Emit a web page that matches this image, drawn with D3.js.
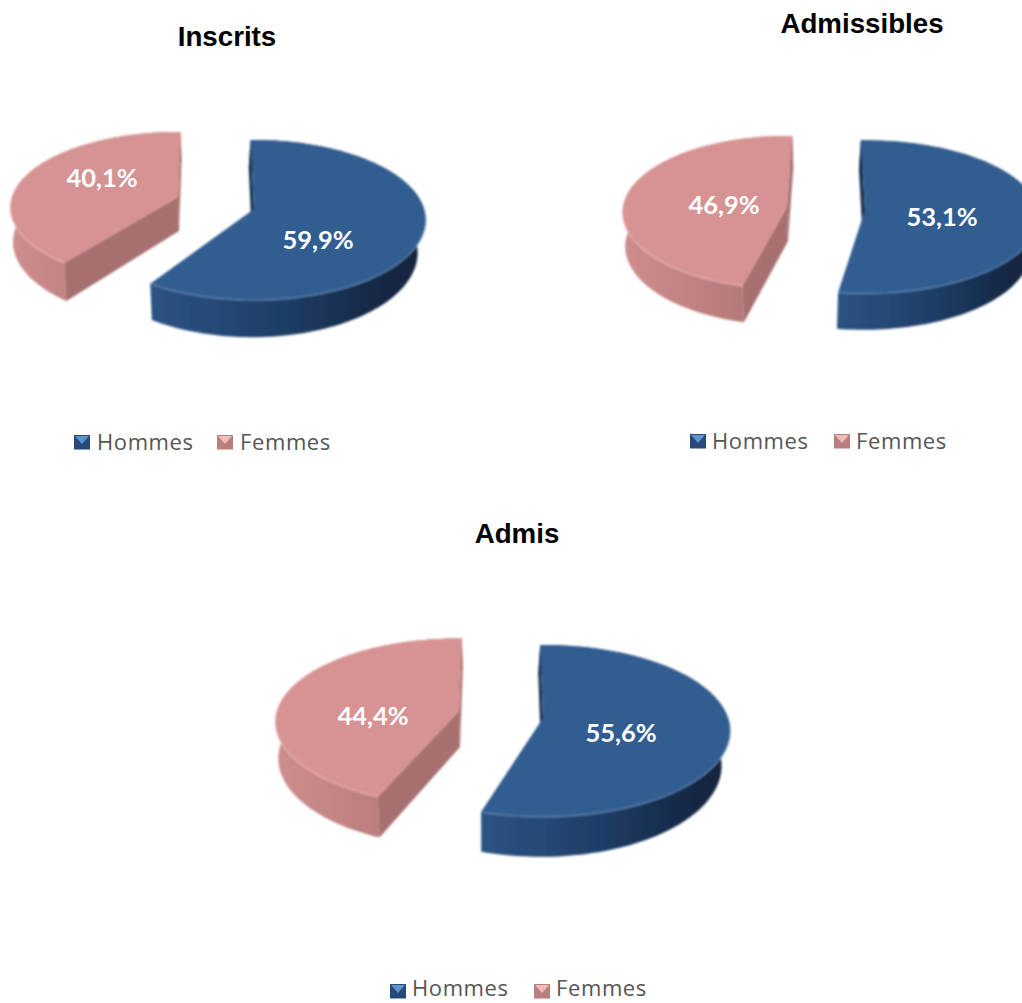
<!DOCTYPE html>
<html><head><meta charset="utf-8">
<script src="https://cdn.jsdelivr.net/npm/d3@7"></script>
<style>html,body{margin:0;padding:0;background:#fff}svg{display:block}</style>
</head><body><svg id="c" width="1022" height="1003"></svg>
<script>
const categories = ["Hommes", "Femmes"];
const titles = ["Inscrits", "Admissibles", "Admis"];
const hommes = [59.9, 53.1, 55.6];
const femmes = [40.1, 46.9, 44.4];

const layouts = [
 {title:[227,37], legend:[74,442,97,217,240],
  blue:{ax:254,ay:209,rx:170,ry:78.5,p:.138,rotS:-1.3,rotE:-3,D:32}, red:{ax:178,ay:197,rx:166,ry:74,p:.138,rotS:2,rotE:1,D:34},
  lblB:[318,240], lblR:[102,178]},
 {title:[862,24], legend:[690,441,712,834,856],
  blue:{ax:865,ay:210,rx:173,ry:76,p:.09,rotS:-1.5,rotE:-3,D:33}, red:{ax:787,ay:207,rx:164,ry:76,p:.07,rotS:3.5,rotE:2,D:34},
  lblB:[942,217], lblR:[724,205]},
 {title:[517,534], legend:[390,988,412,534,556],
  blue:{ax:543,ay:718,rx:185,ry:84,p:.15,rotS:-1,rotE:-3.5,D:34}, red:{ax:459,ay:711,rx:182,ry:82,p:.13,rotS:3,rotE:1,D:36},
  lblB:[621,733], lblR:[373,716]}
];

const svg = d3.select("#c");
const defs = svg.append("defs");
defs.append("filter").attr("id","soft").attr("x","-5%").attr("y","-5%").attr("width","110%").attr("height","110%")
  .append("feGaussianBlur").attr("stdDeviation",.9);
defs.append("filter").attr("id","softer").attr("x","-10%").attr("y","-20%").attr("width","120%").attr("height","140%")
  .append("feGaussianBlur").attr("stdDeviation",.45);
function grad(id, stops){
  const g = defs.append("linearGradient").attr("id",id).attr("x1",0).attr("y1",0).attr("x2",1).attr("y2",0);
  stops.forEach(([o,c])=>g.append("stop").attr("offset",o).attr("stop-color",c));
}
grad("wallB",[[0,"#2c5383"],[.45,"#1f3f69"],[.8,"#152a47"],[1,"#12233b"]]);
grad("wallR",[[0,"#cf8d8d"],[.5,"#bd7f7f"],[1,"#a87070"]]);

const colors = {
  Hommes:{face:"#325d91",wall:"url(#wallB)",cut:"#172d4b",rim:"#6a93c2",sw:"#25497a",swL:"#5f93cb",bs:.965,bx:-2},
  Femmes:{face:"#d79393",wall:"url(#wallR)",cut:"#a76f6f",rim:"#f0b9b9",sw:"#b97f7f",swL:"#efbcb6",bs:.99,bx:1}
};
const pie = d3.pie().sort(null).value(d=>d.v);
const line = d3.line().x(d=>d[0]).y(d=>d[1]);

function proj(g, th, rot, bottom, cfg){
  const t = th + rot*Math.PI/180;
  const d = -Math.cos(t), s = 1/(1-g.p*d);
  const x = g.rx*Math.sin(t)*s, y = g.ry*d*s;
  if(!bottom) return [g.ax+x, g.ay+y];
  return [g.ax+x*cfg.bs+cfg.bx, g.ay+y+g.D*s];
}
function apex(g,bottom,cfg){ return bottom?[g.ax+cfg.bx,g.ay+g.D]:[g.ax,g.ay]; }

function drawSlice(layer, a, g, name){
  const cfg = colors[name];
  const th = d3.scaleLinear().domain([0,120]).range([a.startAngle,a.endAngle]);
  const rt = d3.scaleLinear().domain([0,120]).range([g.rotS,g.rotE]);
  const ids = d3.range(121);
  const top = ids.map(i=>proj(g,th(i),rt(i),false,cfg));
  const bot = ids.map(i=>proj(g,th(i),rt(i),true,cfg));
  layer.append("path").attr("d",line(top.concat(bot.slice().reverse()))+"Z").attr("fill",cfg.wall);
  layer.append("path").attr("d",line([top[0],apex(g,false,cfg),apex(g,true,cfg),bot[0]])+"Z").attr("fill",cfg.cut);
  if(name==="Femmes"){
    layer.append("path").attr("d",line([top[120],apex(g,false,cfg),apex(g,true,cfg),bot[120]])+"Z").attr("fill",cfg.cut);
  }
  layer.append("path").attr("d",line([apex(g,false,cfg)].concat(top))+"Z").attr("fill",cfg.face);
  const front = ids.filter(i=>-Math.cos(th(i)+rt(i)*Math.PI/180)>.05).map(i=>top[i]);
  layer.append("path").attr("d",line(front)).attr("fill","none").attr("stroke",cfg.rim).attr("stroke-width",1.2).attr("stroke-opacity",.7);
}

layouts.forEach((L,i)=>{
  const data = [{c:categories[0],v:hommes[i]},{c:categories[1],v:femmes[i]}];
  const arcs = pie(data);
  const layer = svg.append("g").attr("filter","url(#soft)");
  drawSlice(layer, arcs[1], L.red, "Femmes");
  drawSlice(layer, arcs[0], L.blue, "Hommes");
  const fmt = v=>v.toFixed(1).replace(".",",")+"%";
  [[L.lblB,hommes[i]],[L.lblR,femmes[i]]].forEach(([p,v])=>{
    svg.append("text").attr("x",p[0]).attr("y",p[1]+8.5).attr("text-anchor","middle")
      .attr("font-family","Lato").attr("font-weight",700).attr("font-size",25.5).attr("fill","#fff").text(fmt(v));
  });
  svg.append("text").attr("x",L.title[0]).attr("y",L.title[1]+9).attr("text-anchor","middle")
    .attr("font-family","Liberation Sans").attr("font-weight",700).attr("font-size",27.7).attr("fill","#000").text(titles[i]);
  const [sx,ly,tx1,sx2,tx2] = L.legend;
  [[sx,tx1,colors.Hommes,categories[0]],[sx2,tx2,colors.Femmes,categories[1]]].forEach(([s,t,cfg,name])=>{
    const y0 = (i===2?991:ly)-7;
    const sw = svg.append("g").attr("filter","url(#softer)");
    sw.append("rect").attr("x",s).attr("y",y0).attr("width",16).attr("height",14.5).attr("fill",cfg.sw);
    sw.append("path").attr("d",line([[s+1,y0+1],[s+15,y0+1],[s+8,y0+9]])+"Z").attr("fill",cfg.swL);
    svg.append("text").attr("x",t).attr("y",ly+8).attr("font-family","Open Sans").attr("font-size",22)
      .attr("letter-spacing",.6).attr("fill","#555").text(name);
  });
});
</script></body></html>
